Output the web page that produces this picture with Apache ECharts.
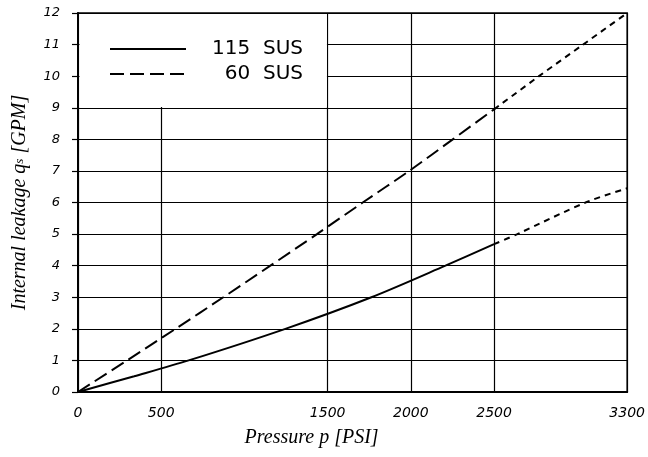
<!DOCTYPE html>
<html>
<head>
<meta charset="utf-8">
<script src="https://cdn.jsdelivr.net/npm/echarts@6/dist/echarts.min.js"></script>
<style>
  html, body { margin: 0; padding: 0; background: #fff; }
  #chart { width: 648px; height: 457px; }
</style>
</head>
<body>
<div id="chart"></div>
<script>
// pressure ticks shown on the x axis
var xTicks = [0, 500, 1500, 2000, 2500, 3300];

// [pressure PSI, leakage GPM], measured range
var sus115 = [[0, 0], [338, 0.5], [665, 1], [1246, 2], [1763, 3], [2208, 4], [2500, 4.68]];
var sus60 = [[0, 0], [295, 1], [586, 2], [873, 3], [1156, 4], [1436, 5], [1711, 6],
  [1990, 7], [2252, 8], [2500, 8.95]];
// extrapolated part (short dashes)
var sus115Ext = [[2500, 4.68], [2640, 5], [3050, 6], [3300, 6.45]];
var sus60Ext = [[2500, 8.95], [2770, 10], [3035, 11], [3300, 12]];

var labelFont = { fontFamily: "DejaVu Sans", fontStyle: "italic", fontSize: 13, color: "#000" };
var nameFont = { fontFamily: "Liberation Serif", fontStyle: "italic", fontSize: 20, color: "#000" };

var myChart = echarts.init(document.getElementById("chart"));

var option = {
  animation: false,
  backgroundColor: "#fff",
  grid: {
    left: 78, right: 14, top: 13, bottom: 65,
    show: true, borderColor: "#000", borderWidth: 1.5
  },
  legend: {
    data: ["115 SUS", "60 SUS"],
    orient: "vertical",
    left: 104,
    top: 34,
    itemWidth: 76,
    itemHeight: 14,
    itemGap: 5,
    itemStyle: { opacity: 0 },
    formatter: function (name) {
      return "{t|" + name.replace(" ", "  ") + "}";
    },
    textStyle: {
      rich: {
        t: {
          fontFamily: "DejaVu Sans",
          fontSize: 20,
          lineHeight: 20,
          color: "#000",
          width: 112,
          align: "right"
        }
      }
    }
  },
  xAxis: {
    type: "value",
    min: 0,
    max: 3300,
    name: "Pressure p [PSI]",
    nameLocation: "middle",
    nameGap: 36,
    nameTextStyle: Object.assign({ padding: [0, 82, 0, 0] }, nameFont),
    axisLine: { lineStyle: { color: "#000", width: 2 } },
    axisTick: { show: false, customValues: xTicks },
    axisLabel: Object.assign({}, labelFont, {
      customValues: xTicks,
      margin: 14,
      fontSize: 14,
      formatter: function (v) { return String(v); }
    }),
    splitLine: { show: true, lineStyle: { color: "#000", width: 1.2 } }
  },
  yAxis: {
    type: "value",
    min: 0,
    max: 12,
    interval: 1,
    name: "{a|Internal leakage q}{s|s}{a| [GPM]}",
    nameLocation: "middle",
    nameGap: 48,
    nameTextStyle: {
      rich: {
        a: nameFont,
        s: Object.assign({}, nameFont, { fontSize: 13 })
      }
    },
    axisLine: { lineStyle: { color: "#000", width: 2 } },
    axisTick: { show: true, length: 6, lineStyle: { color: "#000", width: 1.2 } },
    axisLabel: Object.assign({ margin: 18 }, labelFont),
    splitLine: { show: true, lineStyle: { color: "#000", width: 1.2 } }
  },
  series: [
    {
      name: "115 SUS",
      type: "line",
      data: sus115,
      smooth: 0.3,
      symbol: "none",
      lineStyle: { color: "#000", width: 2, type: "solid" },
      itemStyle: { color: "#000" }
    },
    {
      name: "60 SUS",
      type: "line",
      data: sus60,
      smooth: 0.3,
      symbol: "none",
      lineStyle: { color: "#000", width: 2, type: [14, 6] },
      itemStyle: { color: "#000" }
    },
    {
      name: "115 SUS ext",
      type: "line",
      data: sus115Ext,
      smooth: 0.3,
      symbol: "none",
      lineStyle: { color: "#000", width: 2, type: [6, 5] }
    },
    {
      name: "60 SUS ext",
      type: "line",
      data: sus60Ext,
      smooth: 0.3,
      symbol: "none",
      lineStyle: { color: "#000", width: 2, type: [6, 5] }
    }
  ]
};

myChart.setOption(option);

// blank box behind the legend, covering the grid above 9 GPM and left of 1500 PSI
var p0 = myChart.convertToPixel({ gridIndex: 0 }, [0, 12]);
var p1 = myChart.convertToPixel({ gridIndex: 0 }, [1500, 9]);
myChart.setOption({
  graphic: [{
    type: "rect",
    z: 1,
    shape: { x: p0[0] + 1.5, y: p0[1] + 1, width: p1[0] - p0[0] - 2.2, height: p1[1] - p0[1] - 1.7 },
    style: { fill: "#fff" }
  }]
});
</script>
</body>
</html>
